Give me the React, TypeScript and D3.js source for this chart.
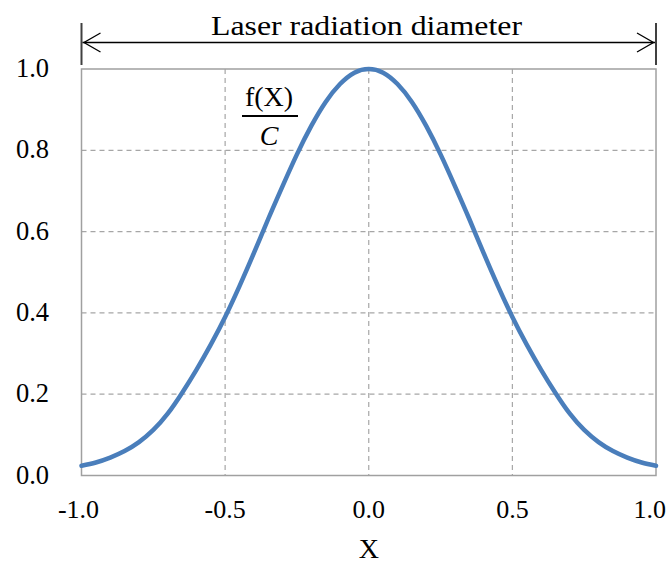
import React from "react";
import * as d3 from "d3";

const xValues = [-1.0, -0.95, -0.9, -0.85, -0.8, -0.75, -0.7, -0.65, -0.6, -0.55, -0.5, -0.45, -0.4, -0.35, -0.3, -0.25, -0.2, -0.15, -0.1, -0.05, 0.0, 0.05, 0.1, 0.15, 0.2, 0.25, 0.3, 0.35, 0.4, 0.45, 0.5, 0.55, 0.6, 0.65, 0.7, 0.75, 0.8, 0.85, 0.9, 0.95, 1.0];
const yValues = [0.024, 0.032, 0.044, 0.06, 0.082, 0.112, 0.152, 0.203, 0.26, 0.322, 0.39, 0.466, 0.547, 0.631, 0.712, 0.79, 0.86, 0.919, 0.963, 0.991, 1.0, 0.991, 0.963, 0.919, 0.86, 0.79, 0.712, 0.631, 0.547, 0.466, 0.39, 0.322, 0.26, 0.203, 0.152, 0.112, 0.082, 0.06, 0.044, 0.032, 0.024];
const xTicks = [-1.0, -0.5, 0.0, 0.5, 1.0];
const yTicks = [0.0, 0.2, 0.4, 0.6, 0.8, 1.0];
const titleText = "Laser radiation diameter";
const xLabel = "X";

const W = 670, H = 565;
const L = 81.5, R = 656, T = 69, B = 475.5;
const FONT = "'Liberation Serif', 'Times New Roman', serif";

export default function App() {
  const x = d3.scaleLinear().domain([-1, 1]).range([L, R]);
  const y = d3.scaleLinear().domain([0, 1]).range([B, T]);
  const pts = xValues.map((v, i) => [v, yValues[i]] as [number, number]);
  const line = d3.line<[number, number]>().x(d => x(d[0])).y(d => y(d[1])).curve(d3.curveNatural);
  const arrowY = 42.5;
  return (
    <svg width={W} height={H} style={{ position: "absolute", left: 0, top: 0, background: "#fff" }}>
      <rect x={0} y={0} width={W} height={H} fill="#fff" />
      {/* grid */}
      {yTicks.filter(t => t > 0 && t < 1).map(t => (
        <line key={"gy" + t} x1={L} x2={R} y1={y(t)} y2={y(t)} stroke="#a6a6a6" strokeWidth={1.2} strokeDasharray="5,4" />
      ))}
      {xTicks.filter(t => t > -1 && t < 1).map(t => (
        <line key={"gx" + t} x1={x(t)} x2={x(t)} y1={T} y2={B} stroke="#a6a6a6" strokeWidth={1.2} strokeDasharray="5,4" />
      ))}
      <rect x={L} y={T} width={R - L} height={B - T} fill="none" stroke="#a0a0a0" strokeWidth={1.5} />
      {/* curve */}
      <path d={line(pts) || ""} fill="none" stroke="#4a7ebb" strokeWidth={4.5} strokeLinecap="round" />
      {/* y tick labels */}
      {yTicks.map(t => (
        <text key={"ty" + t} x={49} y={y(t) + 8} textAnchor="end" fontFamily={FONT} fontSize={26.5} fill="#000">{t.toFixed(1)}</text>
      ))}
      {/* x tick labels */}
      {xTicks.map((t, i) => (
        <text key={"tx" + t} x={i === xTicks.length - 1 ? 666 : x(t) - (i === 0 ? 3 : 0)} y={518} textAnchor={i === xTicks.length - 1 ? "end" : "middle"} fontFamily={FONT} fontSize={26} fill="#000">{t.toFixed(1)}</text>
      ))}
      <text x={x(0)} y={558} textAnchor="middle" fontFamily={FONT} fontSize={28} fill="#000">{xLabel}</text>
      {/* dimension arrow */}
      <line x1={L} x2={L} y1={23} y2={65} stroke="#404040" strokeWidth={2} />
      <line x1={R} x2={R} y1={23} y2={65} stroke="#404040" strokeWidth={2} />
      <line x1={L + 1} x2={R - 1} y1={arrowY} y2={arrowY} stroke="#000" strokeWidth={1.3} />
      <polyline points={`${L + 19},${arrowY - 9.5} ${L + 2.5},${arrowY} ${L + 19},${arrowY + 9.5}`} fill="none" stroke="#000" strokeWidth={1.3} />
      <polyline points={`${R - 19},${arrowY - 9.5} ${R - 2.5},${arrowY} ${R - 19},${arrowY + 9.5}`} fill="none" stroke="#000" strokeWidth={1.3} />
      <text x={366.5} y={35} textAnchor="middle" fontFamily={FONT} fontSize={27} textLength={311} lengthAdjust="spacingAndGlyphs" fill="#000">{titleText}</text>
      {/* f(X)/C annotation */}
      <text x={269} y={106} textAnchor="middle" fontFamily={FONT} fontSize={28} fill="#000">f(X)</text>
      <line x1={242} x2={298} y1={116} y2={116} stroke="#000" strokeWidth={2} />
      <text x={269} y={145} textAnchor="middle" fontFamily={FONT} fontStyle="italic" fontSize={28} fill="#000">C</text>
    </svg>
  );
}
